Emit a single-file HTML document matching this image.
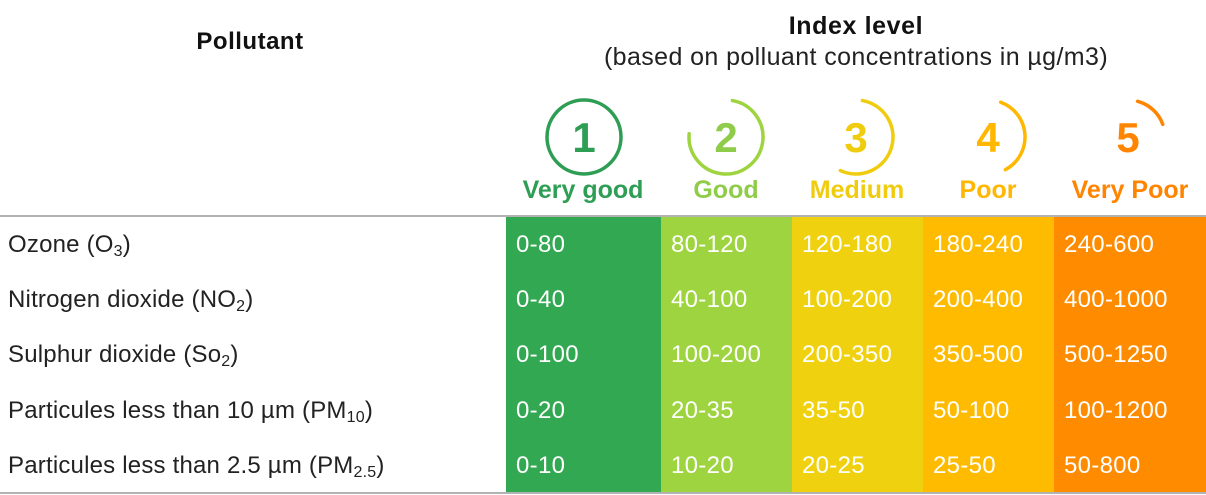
<!DOCTYPE html>
<html><head><meta charset="utf-8"><style>
body{margin:0;width:1206px;height:495px;background:#fff;font-family:"Liberation Sans",sans-serif;position:relative;overflow:hidden}
.a{position:absolute}
.cell{position:absolute;color:#fff;font-size:24px;letter-spacing:0.3px;line-height:55px;padding-left:10px;box-sizing:border-box}
.lbl{position:absolute;font-size:24px;letter-spacing:0.2px;color:#222;left:8px;line-height:55px}
.hd{position:absolute;font-weight:bold;font-size:25px;text-align:center}
sub{font-size:16px;vertical-align:-4px;line-height:0}
</style></head><body>
<div class="hd" style="left:150px;top:28px;width:200px;color:#111;font-size:24px;letter-spacing:0.5px">Pollutant</div>
<div class="hd" style="left:556px;top:12px;width:600px;color:#111;letter-spacing:0.6px">Index level</div>
<div class="a" style="left:506px;top:43px;width:700px;text-align:center;font-size:25px;letter-spacing:0.4px;color:#222">(based on polluant concentrations in µg/m3)</div>
<svg class="a" style="left:0;top:0" width="1206" height="495">
<g fill="none" stroke-width="3.5" stroke-linecap="round">
<circle cx="584" cy="137" r="37" stroke="#2e9e55"/>
<path id="p2" stroke="#9dd43f"/>
<path id="p3" stroke="#f0cc0f"/>
<path id="p4" stroke="#ffb700"/>
<path id="p5" stroke="#ff8500"/>
</g>
<g font-family="Liberation Sans" font-weight="bold" font-size="42" text-anchor="middle">
<text x="584" y="152" fill="#2e9e55">1</text>
<text x="726" y="152" fill="#8fcc4a">2</text>
<text x="856" y="152" fill="#f0cc0f">3</text>
<text x="988" y="152" fill="#ffb700">4</text>
<text x="1128" y="152" fill="#ff8500">5</text>
</g>
<g font-family="Liberation Sans" font-weight="bold" font-size="25" text-anchor="middle">
<text x="583" y="198" fill="#2e9e55">Very good</text>
<text x="726" y="198" fill="#8fcc4a">Good</text>
<text x="857" y="198" fill="#f0cc0f">Medium</text>
<text x="988" y="198" fill="#ffb700">Poor</text>
<text x="1130" y="198" fill="#ff8500">Very Poor</text>
</g>
<line x1="0" y1="216" x2="1206" y2="216" stroke="#999" stroke-width="1.5"/>
<line x1="0" y1="493" x2="1206" y2="493" stroke="#999" stroke-width="1.5"/>
</svg>
<div id="rows"></div>
<script>
function arc(id,cx,cy,r,a0,a1){const R=Math.PI/180;const x0=cx+r*Math.cos(a0*R),y0=cy+r*Math.sin(a0*R),x1=cx+r*Math.cos(a1*R),y1=cy+r*Math.sin(a1*R);
document.getElementById(id).setAttribute('d',`M${x0} ${y0} A${r} ${r} 0 ${(a1-a0)>180?1:0} 1 ${x1} ${y1}`);}
arc('p2',726,137,37,-80,185);arc('p3',856,137,37,-80,115);arc('p4',988,137,37,-70,62);arc('p5',1128,137,37,-75,-20);
const pollutants=['Ozone (O<sub>3</sub>)','Nitrogen dioxide (NO<sub>2</sub>)','Sulphur dioxide (So<sub>2</sub>)','Particules less than 10 µm (PM<sub>10</sub>)','Particules less than 2.5 µm (PM<sub>2.5</sub>)'];
const ranges=[['0-80','80-120','120-180','180-240','240-600'],['0-40','40-100','100-200','200-400','400-1000'],['0-100','100-200','200-350','350-500','500-1250'],['0-20','20-35','35-50','50-100','100-1200'],['0-10','10-20','20-25','25-50','50-800']];
const colX=[506,661,792,923,1054,1206];
const colors=['#33a852','#9dd43f','#f0d10f','#ffbb00','#ff8c00'];
const root=document.getElementById('rows');
const top0=217,rh=55.2;
for(let c=0;c<5;c++){const bg=document.createElement('div');bg.className='a';


bg.style.cssText=`left:${colX[c]}px;top:${top0}px;width:${colX[c+1]-colX[c]}px;height:275px;background:${colors[c]}`;root.appendChild(bg);}
pollutants.forEach((p,r)=>{const l=document.createElement('div');l.className='lbl';l.innerHTML=p;l.style.top=(top0+r*rh)+'px';


root.appendChild(l);
ranges[r].forEach((v,c)=>{const d=document.createElement('div');d.className='cell';d.textContent=v;
d.style.left=colX[c]+'px';d.style.top=(top0+r*rh)+'px';


root.appendChild(d);});});
</script>
</body></html>
